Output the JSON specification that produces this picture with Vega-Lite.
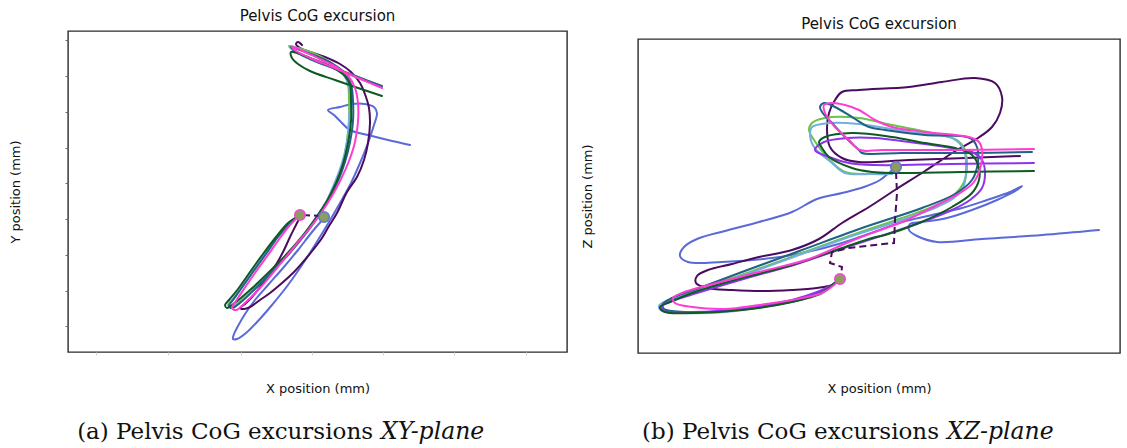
{
  "$schema": "https://vega.github.io/schema/vega-lite/v6.json",
  "background": "white",
  "padding": {"top": 8, "left": 8, "right": 0, "bottom": 0},
  "config": {
    "view": {"stroke": "#2a2a2a", "strokeWidth": 1.4},
    "title": {"font": "DejaVu Sans", "fontSize": 15, "fontWeight": "normal", "color": "#111111", "offset": 7, "frame": "group"},
    "axis": {"labels": false, "grid": false, "domain": false, "titleFont": "DejaVu Sans", "titleFontSize": 13, "titleFontWeight": "normal", "titleColor": "#111111"},
    "concat": {"spacing": 12}
  },
  "datasets": {
    "xy": [
      {"s":"trial 1","i":0,"x":257,"y":135},{"s":"trial 1","i":1,"x":244,"y":120},{"s":"trial 1","i":2,"x":230,"y":102},{"s":"trial 1","i":3,"x":215,"y":84},{"s":"trial 1","i":4,"x":200,"y":67},{"s":"trial 1","i":5,"x":187,"y":52},{"s":"trial 1","i":6,"x":177,"y":38},{"s":"trial 1","i":7,"x":170,"y":26},{"s":"trial 1","i":8,"x":166,"y":18},{"s":"trial 1","i":9,"x":165,"y":13},{"s":"trial 1","i":10,"x":169,"y":13},{"s":"trial 1","i":11,"x":178,"y":19},{"s":"trial 1","i":12,"x":190,"y":31},{"s":"trial 1","i":13,"x":204,"y":47},{"s":"trial 1","i":14,"x":220,"y":67},{"s":"trial 1","i":15,"x":236,"y":90},{"s":"trial 1","i":16,"x":250,"y":112},{"s":"trial 1","i":17,"x":261,"y":130},{"s":"trial 1","i":18,"x":272,"y":149},{"s":"trial 1","i":19,"x":283,"y":169},{"s":"trial 1","i":20,"x":292,"y":189},{"s":"trial 1","i":21,"x":300,"y":209},{"s":"trial 1","i":22,"x":306,"y":227},{"s":"trial 1","i":23,"x":309,"y":239},{"s":"trial 1","i":24,"x":306,"y":245},{"s":"trial 1","i":25,"x":297,"y":248},{"s":"trial 1","i":26,"x":284,"y":248},{"s":"trial 1","i":27,"x":272,"y":245},{"s":"trial 1","i":28,"x":260,"y":242},{"s":"trial 1","i":29,"x":266,"y":237},{"s":"trial 1","i":30,"x":272,"y":231},{"s":"trial 1","i":31,"x":282,"y":222},{"s":"trial 1","i":32,"x":300,"y":217},{"s":"trial 1","i":33,"x":320,"y":212},{"s":"trial 1","i":34,"x":342,"y":207},
      {"s":"trial 2","i":0,"x":232,"y":135},{"s":"trial 2","i":1,"x":228,"y":127},{"s":"trial 2","i":2,"x":222,"y":115},{"s":"trial 2","i":3,"x":216,"y":102},{"s":"trial 2","i":4,"x":209,"y":89},{"s":"trial 2","i":5,"x":200,"y":76},{"s":"trial 2","i":6,"x":192,"y":65},{"s":"trial 2","i":7,"x":184,"y":55},{"s":"trial 2","i":8,"x":177,"y":48},{"s":"trial 2","i":9,"x":172,"y":44},{"s":"trial 2","i":10,"x":176,"y":43},{"s":"trial 2","i":11,"x":182,"y":45},{"s":"trial 2","i":12,"x":192,"y":52},{"s":"trial 2","i":13,"x":202,"y":59},{"s":"trial 2","i":14,"x":214,"y":69},{"s":"trial 2","i":15,"x":225,"y":79},{"s":"trial 2","i":16,"x":235,"y":90},{"s":"trial 2","i":17,"x":245,"y":102},{"s":"trial 2","i":18,"x":254,"y":114},{"s":"trial 2","i":19,"x":261,"y":126},{"s":"trial 2","i":20,"x":269,"y":139},{"s":"trial 2","i":21,"x":279,"y":160},{"s":"trial 2","i":22,"x":289,"y":175},{"s":"trial 2","i":23,"x":296,"y":192},{"s":"trial 2","i":24,"x":300,"y":209},{"s":"trial 2","i":25,"x":302,"y":229},{"s":"trial 2","i":26,"x":301,"y":244},{"s":"trial 2","i":27,"x":298,"y":255},{"s":"trial 2","i":28,"x":292,"y":269},{"s":"trial 2","i":29,"x":283,"y":280},{"s":"trial 2","i":30,"x":272,"y":288},{"s":"trial 2","i":31,"x":257,"y":295},{"s":"trial 2","i":32,"x":242,"y":300},{"s":"trial 2","i":33,"x":232,"y":304},{"s":"trial 2","i":34,"x":228,"y":308},{"s":"trial 2","i":35,"x":230,"y":310},{"s":"trial 2","i":36,"x":234,"y":307},
      {"s":"trial 3","i":0,"x":232,"y":137},{"s":"trial 3","i":1,"x":210,"y":116},{"s":"trial 3","i":2,"x":185,"y":81},{"s":"trial 3","i":3,"x":165,"y":53},{"s":"trial 3","i":4,"x":160,"y":47},{"s":"trial 3","i":5,"x":164,"y":45},{"s":"trial 3","i":6,"x":187,"y":64},{"s":"trial 3","i":7,"x":220,"y":98},{"s":"trial 3","i":8,"x":236,"y":117},{"s":"trial 3","i":9,"x":249,"y":135},{"s":"trial 3","i":10,"x":260,"y":153},{"s":"trial 3","i":11,"x":268,"y":171},{"s":"trial 3","i":12,"x":275,"y":190},{"s":"trial 3","i":13,"x":279,"y":211},{"s":"trial 3","i":14,"x":281,"y":232},{"s":"trial 3","i":15,"x":281,"y":252},{"s":"trial 3","i":16,"x":280,"y":267},{"s":"trial 3","i":17,"x":275,"y":279},{"s":"trial 3","i":18,"x":262,"y":290},{"s":"trial 3","i":19,"x":245,"y":299},{"s":"trial 3","i":20,"x":230,"y":304},{"s":"trial 3","i":21,"x":221,"y":306},{"s":"trial 3","i":22,"x":225,"y":302},{"s":"trial 3","i":23,"x":242,"y":294},{"s":"trial 3","i":24,"x":265,"y":285},{"s":"trial 3","i":25,"x":290,"y":275},{"s":"trial 3","i":26,"x":312,"y":266},
      {"s":"trial 4","i":0,"x":232,"y":137},{"s":"trial 4","i":1,"x":210,"y":116},{"s":"trial 4","i":2,"x":185,"y":81},{"s":"trial 4","i":3,"x":165,"y":53},{"s":"trial 4","i":4,"x":161,"y":47},{"s":"trial 4","i":5,"x":165,"y":45},{"s":"trial 4","i":6,"x":187,"y":64},{"s":"trial 4","i":7,"x":220,"y":98},{"s":"trial 4","i":8,"x":235,"y":116},{"s":"trial 4","i":9,"x":248,"y":134},{"s":"trial 4","i":10,"x":259,"y":152},{"s":"trial 4","i":11,"x":267,"y":170},{"s":"trial 4","i":12,"x":274,"y":189},{"s":"trial 4","i":13,"x":279,"y":210},{"s":"trial 4","i":14,"x":281,"y":231},{"s":"trial 4","i":15,"x":282,"y":251},{"s":"trial 4","i":16,"x":281,"y":266},{"s":"trial 4","i":17,"x":275,"y":278},{"s":"trial 4","i":18,"x":262,"y":289},{"s":"trial 4","i":19,"x":245,"y":297},{"s":"trial 4","i":20,"x":230,"y":303},{"s":"trial 4","i":21,"x":222,"y":306},{"s":"trial 4","i":22,"x":226,"y":301},{"s":"trial 4","i":23,"x":242,"y":293},{"s":"trial 4","i":24,"x":265,"y":284},{"s":"trial 4","i":25,"x":290,"y":274},{"s":"trial 4","i":26,"x":314,"y":265},
      {"s":"trial 5","i":0,"x":232,"y":137},{"s":"trial 5","i":1,"x":221,"y":128},{"s":"trial 5","i":2,"x":210,"y":115},{"s":"trial 5","i":3,"x":198,"y":98},{"s":"trial 5","i":4,"x":185,"y":80},{"s":"trial 5","i":5,"x":173,"y":63},{"s":"trial 5","i":6,"x":165,"y":52},{"s":"trial 5","i":7,"x":161,"y":46},{"s":"trial 5","i":8,"x":164,"y":44},{"s":"trial 5","i":9,"x":173,"y":50},{"s":"trial 5","i":10,"x":187,"y":63},{"s":"trial 5","i":11,"x":203,"y":79},{"s":"trial 5","i":12,"x":220,"y":97},{"s":"trial 5","i":13,"x":236,"y":116},{"s":"trial 5","i":14,"x":250,"y":135},{"s":"trial 5","i":15,"x":261,"y":153},{"s":"trial 5","i":16,"x":270,"y":171},{"s":"trial 5","i":17,"x":277,"y":190},{"s":"trial 5","i":18,"x":282,"y":210},{"s":"trial 5","i":19,"x":285,"y":231},{"s":"trial 5","i":20,"x":285,"y":251},{"s":"trial 5","i":21,"x":283,"y":268},{"s":"trial 5","i":22,"x":277,"y":279},{"s":"trial 5","i":23,"x":265,"y":288},{"s":"trial 5","i":24,"x":248,"y":296},{"s":"trial 5","i":25,"x":232,"y":302},{"s":"trial 5","i":26,"x":223,"y":305},{"s":"trial 5","i":27,"x":227,"y":301},{"s":"trial 5","i":28,"x":242,"y":293},{"s":"trial 5","i":29,"x":265,"y":284},{"s":"trial 5","i":30,"x":290,"y":275},{"s":"trial 5","i":31,"x":314,"y":266},
      {"s":"trial 7","i":0,"x":232,"y":137},{"s":"trial 7","i":1,"x":220,"y":129},{"s":"trial 7","i":2,"x":208,"y":115},{"s":"trial 7","i":3,"x":195,"y":98},{"s":"trial 7","i":4,"x":182,"y":80},{"s":"trial 7","i":5,"x":170,"y":63},{"s":"trial 7","i":6,"x":161,"y":52},{"s":"trial 7","i":7,"x":157,"y":47},{"s":"trial 7","i":8,"x":159,"y":44},{"s":"trial 7","i":9,"x":168,"y":50},{"s":"trial 7","i":10,"x":182,"y":62},{"s":"trial 7","i":11,"x":198,"y":77},{"s":"trial 7","i":12,"x":215,"y":94},{"s":"trial 7","i":13,"x":232,"y":113},{"s":"trial 7","i":14,"x":247,"y":133},{"s":"trial 7","i":15,"x":259,"y":151},{"s":"trial 7","i":16,"x":268,"y":169},{"s":"trial 7","i":17,"x":275,"y":188},{"s":"trial 7","i":18,"x":280,"y":209},{"s":"trial 7","i":19,"x":283,"y":231},{"s":"trial 7","i":20,"x":283,"y":251},{"s":"trial 7","i":21,"x":282,"y":267},{"s":"trial 7","i":22,"x":277,"y":276},{"s":"trial 7","i":23,"x":262,"y":286},{"s":"trial 7","i":24,"x":242,"y":294},{"s":"trial 7","i":25,"x":229,"y":299},{"s":"trial 7","i":26,"x":223,"y":300},{"s":"trial 7","i":27,"x":224,"y":294},{"s":"trial 7","i":28,"x":230,"y":288},{"s":"trial 7","i":29,"x":242,"y":281},{"s":"trial 7","i":30,"x":267,"y":272},{"s":"trial 7","i":31,"x":290,"y":264},{"s":"trial 7","i":32,"x":314,"y":256},
      {"s":"trial 8","i":0,"x":232,"y":137},{"s":"trial 8","i":1,"x":222,"y":127},{"s":"trial 8","i":2,"x":212,"y":114},{"s":"trial 8","i":3,"x":200,"y":97},{"s":"trial 8","i":4,"x":187,"y":79},{"s":"trial 8","i":5,"x":176,"y":63},{"s":"trial 8","i":6,"x":168,"y":51},{"s":"trial 8","i":7,"x":164,"y":44},{"s":"trial 8","i":8,"x":168,"y":42},{"s":"trial 8","i":9,"x":178,"y":50},{"s":"trial 8","i":10,"x":192,"y":64},{"s":"trial 8","i":11,"x":209,"y":84},{"s":"trial 8","i":12,"x":226,"y":105},{"s":"trial 8","i":13,"x":241,"y":123},{"s":"trial 8","i":14,"x":253,"y":139},{"s":"trial 8","i":15,"x":264,"y":156},{"s":"trial 8","i":16,"x":273,"y":173},{"s":"trial 8","i":17,"x":281,"y":191},{"s":"trial 8","i":18,"x":287,"y":210},{"s":"trial 8","i":19,"x":290,"y":230},{"s":"trial 8","i":20,"x":290,"y":249},{"s":"trial 8","i":21,"x":287,"y":264},{"s":"trial 8","i":22,"x":281,"y":275},{"s":"trial 8","i":23,"x":270,"y":284},{"s":"trial 8","i":24,"x":254,"y":292},{"s":"trial 8","i":25,"x":239,"y":299},{"s":"trial 8","i":26,"x":228,"y":304},{"s":"trial 8","i":27,"x":224,"y":305},{"s":"trial 8","i":28,"x":228,"y":301},{"s":"trial 8","i":29,"x":242,"y":294},{"s":"trial 8","i":30,"x":264,"y":285},{"s":"trial 8","i":31,"x":288,"y":275},{"s":"trial 8","i":32,"x":314,"y":264}
    ],
    "xz": [
      {"s":"trial 1","i":0,"x":258,"y":186},{"s":"trial 1","i":1,"x":252,"y":181},{"s":"trial 1","i":2,"x":242,"y":173},{"s":"trial 1","i":3,"x":226,"y":166},{"s":"trial 1","i":4,"x":204,"y":160},{"s":"trial 1","i":5,"x":179,"y":154},{"s":"trial 1","i":6,"x":154,"y":141},{"s":"trial 1","i":7,"x":121,"y":131},{"s":"trial 1","i":8,"x":87,"y":122},{"s":"trial 1","i":9,"x":59,"y":114},{"s":"trial 1","i":10,"x":46,"y":106},{"s":"trial 1","i":11,"x":42,"y":97},{"s":"trial 1","i":12,"x":50,"y":91},{"s":"trial 1","i":13,"x":84,"y":91},{"s":"trial 1","i":14,"x":134,"y":95},{"s":"trial 1","i":15,"x":169,"y":101},{"s":"trial 1","i":16,"x":204,"y":110},{"s":"trial 1","i":17,"x":236,"y":121},{"s":"trial 1","i":18,"x":264,"y":131},{"s":"trial 1","i":19,"x":294,"y":138},{"s":"trial 1","i":20,"x":324,"y":145},{"s":"trial 1","i":21,"x":349,"y":153},{"s":"trial 1","i":22,"x":372,"y":161},{"s":"trial 1","i":23,"x":384,"y":167},{"s":"trial 1","i":24,"x":379,"y":163},{"s":"trial 1","i":25,"x":359,"y":153},{"s":"trial 1","i":26,"x":334,"y":143},{"s":"trial 1","i":27,"x":309,"y":135},{"s":"trial 1","i":28,"x":284,"y":131},{"s":"trial 1","i":29,"x":272,"y":129},{"s":"trial 1","i":30,"x":271,"y":123},{"s":"trial 1","i":31,"x":279,"y":117},{"s":"trial 1","i":32,"x":299,"y":111},{"s":"trial 1","i":33,"x":344,"y":114},{"s":"trial 1","i":34,"x":404,"y":118},{"s":"trial 1","i":35,"x":461,"y":123},
      {"s":"trial 2","i":0,"x":202,"y":74},{"s":"trial 2","i":1,"x":194,"y":68},{"s":"trial 2","i":2,"x":179,"y":65},{"s":"trial 2","i":3,"x":154,"y":63},{"s":"trial 2","i":4,"x":124,"y":62},{"s":"trial 2","i":5,"x":94,"y":63},{"s":"trial 2","i":6,"x":69,"y":65},{"s":"trial 2","i":7,"x":58,"y":70},{"s":"trial 2","i":8,"x":59,"y":77},{"s":"trial 2","i":9,"x":70,"y":83},{"s":"trial 2","i":10,"x":94,"y":89},{"s":"trial 2","i":11,"x":121,"y":96},{"s":"trial 2","i":12,"x":154,"y":103},{"s":"trial 2","i":13,"x":181,"y":114},{"s":"trial 2","i":14,"x":204,"y":130},{"s":"trial 2","i":15,"x":231,"y":146},{"s":"trial 2","i":16,"x":257,"y":163},{"s":"trial 2","i":17,"x":287,"y":182},{"s":"trial 2","i":18,"x":319,"y":203},{"s":"trial 2","i":19,"x":340,"y":215},{"s":"trial 2","i":20,"x":354,"y":226},{"s":"trial 2","i":21,"x":362,"y":240},{"s":"trial 2","i":22,"x":364,"y":256},{"s":"trial 2","i":23,"x":357,"y":270},{"s":"trial 2","i":24,"x":337,"y":275},{"s":"trial 2","i":25,"x":304,"y":271},{"s":"trial 2","i":26,"x":271,"y":266},{"s":"trial 2","i":27,"x":221,"y":263},{"s":"trial 2","i":28,"x":204,"y":261},{"s":"trial 2","i":29,"x":197,"y":253},{"s":"trial 2","i":30,"x":191,"y":240},{"s":"trial 2","i":31,"x":189,"y":223},{"s":"trial 2","i":32,"x":192,"y":206},{"s":"trial 2","i":33,"x":204,"y":195},{"s":"trial 2","i":34,"x":221,"y":191},{"s":"trial 2","i":35,"x":271,"y":193},{"s":"trial 2","i":36,"x":382,"y":197},
      {"s":"trial 3","i":0,"x":202,"y":74},{"s":"trial 3","i":1,"x":194,"y":68},{"s":"trial 3","i":2,"x":169,"y":56},{"s":"trial 3","i":3,"x":134,"y":48},{"s":"trial 3","i":4,"x":87,"y":42},{"s":"trial 3","i":5,"x":47,"y":40},{"s":"trial 3","i":6,"x":24,"y":43},{"s":"trial 3","i":7,"x":22,"y":48},{"s":"trial 3","i":8,"x":34,"y":54},{"s":"trial 3","i":9,"x":64,"y":65},{"s":"trial 3","i":10,"x":109,"y":80},{"s":"trial 3","i":11,"x":164,"y":100},{"s":"trial 3","i":12,"x":214,"y":118},{"s":"trial 3","i":13,"x":264,"y":135},{"s":"trial 3","i":14,"x":299,"y":148},{"s":"trial 3","i":15,"x":316,"y":158},{"s":"trial 3","i":16,"x":326,"y":171},{"s":"trial 3","i":17,"x":329,"y":188},{"s":"trial 3","i":18,"x":326,"y":205},{"s":"trial 3","i":19,"x":319,"y":213},{"s":"trial 3","i":20,"x":294,"y":220},{"s":"trial 3","i":21,"x":254,"y":228},{"s":"trial 3","i":22,"x":221,"y":235},{"s":"trial 3","i":23,"x":187,"y":235},{"s":"trial 3","i":24,"x":174,"y":230},{"s":"trial 3","i":25,"x":171,"y":223},{"s":"trial 3","i":26,"x":176,"y":213},{"s":"trial 3","i":27,"x":189,"y":196},{"s":"trial 3","i":28,"x":207,"y":181},{"s":"trial 3","i":29,"x":234,"y":179},{"s":"trial 3","i":30,"x":254,"y":179},
      {"s":"trial 4","i":0,"x":202,"y":74},{"s":"trial 4","i":1,"x":194,"y":68},{"s":"trial 4","i":2,"x":169,"y":56},{"s":"trial 4","i":3,"x":134,"y":48},{"s":"trial 4","i":4,"x":87,"y":41},{"s":"trial 4","i":5,"x":47,"y":40},{"s":"trial 4","i":6,"x":24,"y":42},{"s":"trial 4","i":7,"x":21,"y":47},{"s":"trial 4","i":8,"x":32,"y":53},{"s":"trial 4","i":9,"x":64,"y":64},{"s":"trial 4","i":10,"x":109,"y":79},{"s":"trial 4","i":11,"x":164,"y":99},{"s":"trial 4","i":12,"x":214,"y":117},{"s":"trial 4","i":13,"x":264,"y":133},{"s":"trial 4","i":14,"x":299,"y":146},{"s":"trial 4","i":15,"x":317,"y":156},{"s":"trial 4","i":16,"x":326,"y":168},{"s":"trial 4","i":17,"x":328,"y":183},{"s":"trial 4","i":18,"x":326,"y":203},{"s":"trial 4","i":19,"x":316,"y":214},{"s":"trial 4","i":20,"x":271,"y":221},{"s":"trial 4","i":21,"x":221,"y":229},{"s":"trial 4","i":22,"x":191,"y":230},{"s":"trial 4","i":23,"x":174,"y":226},{"s":"trial 4","i":24,"x":172,"y":218},{"s":"trial 4","i":25,"x":176,"y":206},{"s":"trial 4","i":26,"x":194,"y":190},{"s":"trial 4","i":27,"x":207,"y":180},{"s":"trial 4","i":28,"x":234,"y":179},{"s":"trial 4","i":29,"x":254,"y":179},
      {"s":"trial 5","i":0,"x":202,"y":74},{"s":"trial 5","i":1,"x":194,"y":68},{"s":"trial 5","i":2,"x":171,"y":56},{"s":"trial 5","i":3,"x":137,"y":48},{"s":"trial 5","i":4,"x":87,"y":42},{"s":"trial 5","i":5,"x":47,"y":41},{"s":"trial 5","i":6,"x":26,"y":44},{"s":"trial 5","i":7,"x":25,"y":49},{"s":"trial 5","i":8,"x":34,"y":55},{"s":"trial 5","i":9,"x":64,"y":66},{"s":"trial 5","i":10,"x":104,"y":81},{"s":"trial 5","i":11,"x":164,"y":103},{"s":"trial 5","i":12,"x":224,"y":125},{"s":"trial 5","i":13,"x":284,"y":145},{"s":"trial 5","i":14,"x":317,"y":159},{"s":"trial 5","i":15,"x":334,"y":173},{"s":"trial 5","i":16,"x":340,"y":191},{"s":"trial 5","i":17,"x":339,"y":206},{"s":"trial 5","i":18,"x":332,"y":215},{"s":"trial 5","i":19,"x":287,"y":218},{"s":"trial 5","i":20,"x":247,"y":223},{"s":"trial 5","i":21,"x":231,"y":226},{"s":"trial 5","i":22,"x":214,"y":236},{"s":"trial 5","i":23,"x":197,"y":246},{"s":"trial 5","i":24,"x":186,"y":250},{"s":"trial 5","i":25,"x":182,"y":246},{"s":"trial 5","i":26,"x":184,"y":241},{"s":"trial 5","i":27,"x":194,"y":230},{"s":"trial 5","i":28,"x":207,"y":216},{"s":"trial 5","i":29,"x":221,"y":203},{"s":"trial 5","i":30,"x":224,"y":200},{"s":"trial 5","i":31,"x":264,"y":200},{"s":"trial 5","i":32,"x":324,"y":200},{"s":"trial 5","i":33,"x":394,"y":201},
      {"s":"trial 6","i":0,"x":202,"y":74},{"s":"trial 6","i":1,"x":194,"y":68},{"s":"trial 6","i":2,"x":179,"y":61},{"s":"trial 6","i":3,"x":154,"y":53},{"s":"trial 6","i":4,"x":104,"y":44},{"s":"trial 6","i":5,"x":54,"y":41},{"s":"trial 6","i":6,"x":27,"y":42},{"s":"trial 6","i":7,"x":24,"y":47},{"s":"trial 6","i":8,"x":34,"y":52},{"s":"trial 6","i":9,"x":59,"y":60},{"s":"trial 6","i":10,"x":109,"y":75},{"s":"trial 6","i":11,"x":159,"y":89},{"s":"trial 6","i":12,"x":209,"y":106},{"s":"trial 6","i":13,"x":249,"y":119},{"s":"trial 6","i":14,"x":284,"y":131},{"s":"trial 6","i":15,"x":314,"y":143},{"s":"trial 6","i":16,"x":332,"y":153},{"s":"trial 6","i":17,"x":344,"y":165},{"s":"trial 6","i":18,"x":347,"y":180},{"s":"trial 6","i":19,"x":344,"y":193},{"s":"trial 6","i":20,"x":334,"y":201},{"s":"trial 6","i":21,"x":319,"y":204},{"s":"trial 6","i":22,"x":301,"y":207},{"s":"trial 6","i":23,"x":271,"y":211},{"s":"trial 6","i":24,"x":237,"y":215},{"s":"trial 6","i":25,"x":209,"y":215},{"s":"trial 6","i":26,"x":186,"y":211},{"s":"trial 6","i":27,"x":177,"y":203},{"s":"trial 6","i":28,"x":191,"y":196},{"s":"trial 6","i":29,"x":211,"y":190},{"s":"trial 6","i":30,"x":237,"y":188},{"s":"trial 6","i":31,"x":314,"y":189},{"s":"trial 6","i":32,"x":396,"y":190},
      {"s":"trial 7","i":0,"x":202,"y":74},{"s":"trial 7","i":1,"x":194,"y":68},{"s":"trial 7","i":2,"x":184,"y":60},{"s":"trial 7","i":3,"x":154,"y":51},{"s":"trial 7","i":4,"x":104,"y":43},{"s":"trial 7","i":5,"x":54,"y":40},{"s":"trial 7","i":6,"x":27,"y":41},{"s":"trial 7","i":7,"x":22,"y":46},{"s":"trial 7","i":8,"x":32,"y":51},{"s":"trial 7","i":9,"x":54,"y":60},{"s":"trial 7","i":10,"x":104,"y":75},{"s":"trial 7","i":11,"x":154,"y":88},{"s":"trial 7","i":12,"x":204,"y":105},{"s":"trial 7","i":13,"x":234,"y":115},{"s":"trial 7","i":14,"x":247,"y":118},{"s":"trial 7","i":15,"x":281,"y":130},{"s":"trial 7","i":16,"x":314,"y":146},{"s":"trial 7","i":17,"x":334,"y":160},{"s":"trial 7","i":18,"x":341,"y":173},{"s":"trial 7","i":19,"x":341,"y":185},{"s":"trial 7","i":20,"x":334,"y":198},{"s":"trial 7","i":21,"x":317,"y":205},{"s":"trial 7","i":22,"x":287,"y":210},{"s":"trial 7","i":23,"x":254,"y":216},{"s":"trial 7","i":24,"x":214,"y":220},{"s":"trial 7","i":25,"x":187,"y":216},{"s":"trial 7","i":26,"x":181,"y":211},{"s":"trial 7","i":27,"x":184,"y":205},{"s":"trial 7","i":28,"x":191,"y":196},{"s":"trial 7","i":29,"x":214,"y":185},{"s":"trial 7","i":30,"x":234,"y":181},{"s":"trial 7","i":31,"x":254,"y":180},{"s":"trial 7","i":32,"x":324,"y":181},{"s":"trial 7","i":33,"x":396,"y":182},
      {"s":"trial 8","i":0,"x":202,"y":74},{"s":"trial 8","i":1,"x":196,"y":68},{"s":"trial 8","i":2,"x":184,"y":60},{"s":"trial 8","i":3,"x":154,"y":53},{"s":"trial 8","i":4,"x":121,"y":48},{"s":"trial 8","i":5,"x":87,"y":44},{"s":"trial 8","i":6,"x":54,"y":46},{"s":"trial 8","i":7,"x":37,"y":50},{"s":"trial 8","i":8,"x":35,"y":55},{"s":"trial 8","i":9,"x":44,"y":60},{"s":"trial 8","i":10,"x":71,"y":68},{"s":"trial 8","i":11,"x":121,"y":81},{"s":"trial 8","i":12,"x":171,"y":94},{"s":"trial 8","i":13,"x":211,"y":111},{"s":"trial 8","i":14,"x":234,"y":120},{"s":"trial 8","i":15,"x":269,"y":133},{"s":"trial 8","i":16,"x":299,"y":148},{"s":"trial 8","i":17,"x":322,"y":160},{"s":"trial 8","i":18,"x":336,"y":171},{"s":"trial 8","i":19,"x":343,"y":188},{"s":"trial 8","i":20,"x":344,"y":203},{"s":"trial 8","i":21,"x":341,"y":211},{"s":"trial 8","i":22,"x":331,"y":216},{"s":"trial 8","i":23,"x":287,"y":221},{"s":"trial 8","i":24,"x":254,"y":226},{"s":"trial 8","i":25,"x":237,"y":233},{"s":"trial 8","i":26,"x":221,"y":243},{"s":"trial 8","i":27,"x":207,"y":248},{"s":"trial 8","i":28,"x":194,"y":250},{"s":"trial 8","i":29,"x":186,"y":248},{"s":"trial 8","i":30,"x":187,"y":240},{"s":"trial 8","i":31,"x":197,"y":226},{"s":"trial 8","i":32,"x":211,"y":213},{"s":"trial 8","i":33,"x":222,"y":203},{"s":"trial 8","i":34,"x":244,"y":203},{"s":"trial 8","i":35,"x":314,"y":203},{"s":"trial 8","i":36,"x":396,"y":204}
    ],
    "linkXY": [{"i":0,"x":235,"y":137},{"i":1,"x":253,"y":136}],
    "linkXZ": [{"i":0,"x":258,"y":181},{"i":1,"x":259,"y":160},{"i":2,"x":257,"y":133},{"i":3,"x":256,"y":110},{"i":4,"x":237,"y":108},{"i":5,"x":211,"y":105},{"i":6,"x":194,"y":101},{"i":7,"x":192,"y":90},{"i":8,"x":204,"y":86},{"i":9,"x":203,"y":77}],
    "markXY": [{"k":"start","x":232,"y":137},{"k":"end","x":256,"y":135}],
    "markXZ": [{"k":"end","x":258,"y":186},{"k":"start","x":202,"y":74}]
  },
  "hconcat": [
    {
      "width": 499,
      "height": 321,
      "title": "Pelvis CoG excursion",
      "layer": [
        {
          "data": {"name": "xy"},
          "mark": {"type": "line", "strokeWidth": 2, "interpolate": "catmull-rom", "strokeCap": "round", "strokeJoin": "round"},
          "encoding": {
            "x": {"field": "x", "type": "quantitative", "scale": {"domain": [0, 499], "nice": false, "zero": false},
                  "axis": {"title": "X position (mm)", "values": [28, 100, 173, 244, 315, 386, 458], "ticks": true, "tickSize": 3, "tickColor": "#d4d4d4", "titlePadding": 27}},
            "y": {"field": "y", "type": "quantitative", "scale": {"domain": [0, 321], "nice": false, "zero": false},
                  "axis": {"title": "Y position (mm)", "values": [26, 61, 97, 133, 169, 204, 240, 276, 312], "ticks": true, "tickSize": 3, "tickColor": "#666666", "titlePadding": 42}},
            "color": {"field": "s", "type": "nominal", "legend": null,
                      "scale": {"domain": ["trial 1", "trial 2", "trial 3", "trial 4", "trial 5", "trial 6", "trial 7", "trial 8"],
                                "range": ["#5a6ad8", "#4b0b5e", "#6cc24a", "#73aede", "#1f6283", "#8e34ee", "#0d5b22", "#ff3dd3"]}},
            "order": {"field": "i", "type": "quantitative"}
          }
        },
        {
          "data": {"name": "linkXY"},
          "mark": {"type": "line", "color": "#4b0b5e", "strokeWidth": 2, "strokeDash": [7, 4]},
          "encoding": {
            "x": {"field": "x", "type": "quantitative"},
            "y": {"field": "y", "type": "quantitative"},
            "order": {"field": "i", "type": "quantitative"}
          }
        },
        {
          "data": {"name": "markXY"},
          "mark": {"type": "point", "filled": false, "fill": "#8c9d5c", "fillOpacity": 1, "opacity": 1, "size": 110, "strokeWidth": 1.6},
          "encoding": {
            "x": {"field": "x", "type": "quantitative"},
            "y": {"field": "y", "type": "quantitative"},
            "stroke": {"field": "k", "type": "nominal", "legend": null, "scale": {"domain": ["start", "end"], "range": ["#f246d6", "#6476d8"]}}
          }
        },
        {
          "data": {"values": [{}]},
          "mark": {"type": "text", "text": "(a) Pelvis CoG excursions", "font": "DejaVu Serif", "fontSize": 23, "align": "right", "baseline": "alphabetic", "color": "#111111"},
          "encoding": {"x": {"datum": 305}, "y": {"datum": -87}}
        },
        {
          "data": {"values": [{}]},
          "mark": {"type": "text", "text": "XY-plane", "font": "DejaVu Serif", "fontStyle": "italic", "fontSize": 23.5, "align": "left", "baseline": "alphabetic", "color": "#111111"},
          "encoding": {"x": {"datum": 313}, "y": {"datum": -87}}
        }
      ]
    },
    {
      "spacing": 0,
      "bounds": "flush",
      "vconcat": [
        {
          "width": 10,
          "height": 8,
          "view": {"stroke": null},
          "data": {"values": [{}]},
          "mark": {"type": "rect", "opacity": 0},
          "encoding": {}
        },
        {
          "width": 482,
          "height": 314,
          "title": "Pelvis CoG excursion",
          "layer": [
            {
              "data": {"name": "xz"},
              "mark": {"type": "line", "strokeWidth": 2, "interpolate": "catmull-rom", "strokeCap": "round", "strokeJoin": "round"},
              "encoding": {
                "x": {"field": "x", "type": "quantitative", "scale": {"domain": [0, 482], "nice": false, "zero": false},
                      "axis": {"title": "X position (mm)", "ticks": false, "titlePadding": 29}},
                "y": {"field": "y", "type": "quantitative", "scale": {"domain": [0, 314], "nice": false, "zero": false},
                      "axis": {"title": "Z position (mm)", "ticks": false, "titlePadding": 44}},
                "color": {"field": "s", "type": "nominal", "legend": null,
                          "scale": {"domain": ["trial 1", "trial 2", "trial 3", "trial 4", "trial 5", "trial 6", "trial 7", "trial 8"],
                                    "range": ["#5a6ad8", "#4b0b5e", "#6cc24a", "#73aede", "#1f6283", "#8e34ee", "#0d5b22", "#ff3dd3"]}},
                "order": {"field": "i", "type": "quantitative"}
              }
            },
            {
              "data": {"name": "linkXZ"},
              "mark": {"type": "line", "color": "#4b0b5e", "strokeWidth": 2, "strokeDash": [7, 4]},
              "encoding": {
                "x": {"field": "x", "type": "quantitative"},
                "y": {"field": "y", "type": "quantitative"},
                "order": {"field": "i", "type": "quantitative"}
              }
            },
            {
              "data": {"name": "markXZ"},
              "mark": {"type": "point", "filled": false, "fill": "#8c9d5c", "fillOpacity": 1, "opacity": 1, "size": 110, "strokeWidth": 1.6},
              "encoding": {
                "x": {"field": "x", "type": "quantitative"},
                "y": {"field": "y", "type": "quantitative"},
                "stroke": {"field": "k", "type": "nominal", "legend": null, "scale": {"domain": ["start", "end"], "range": ["#f246d6", "#6476d8"]}}
              }
            },
            {
              "data": {"values": [{}]},
              "mark": {"type": "text", "text": "(b) Pelvis CoG excursions", "font": "DejaVu Serif", "fontSize": 23, "align": "right", "baseline": "alphabetic", "color": "#111111"},
              "encoding": {"x": {"datum": 301}, "y": {"datum": -86}}
            },
            {
              "data": {"values": [{}]},
              "mark": {"type": "text", "text": "XZ-plane", "font": "DejaVu Serif", "fontStyle": "italic", "fontSize": 23.5, "align": "left", "baseline": "alphabetic", "color": "#111111"},
              "encoding": {"x": {"datum": 309}, "y": {"datum": -86}}
            }
          ]
        }
      ]
    }
  ]
}
